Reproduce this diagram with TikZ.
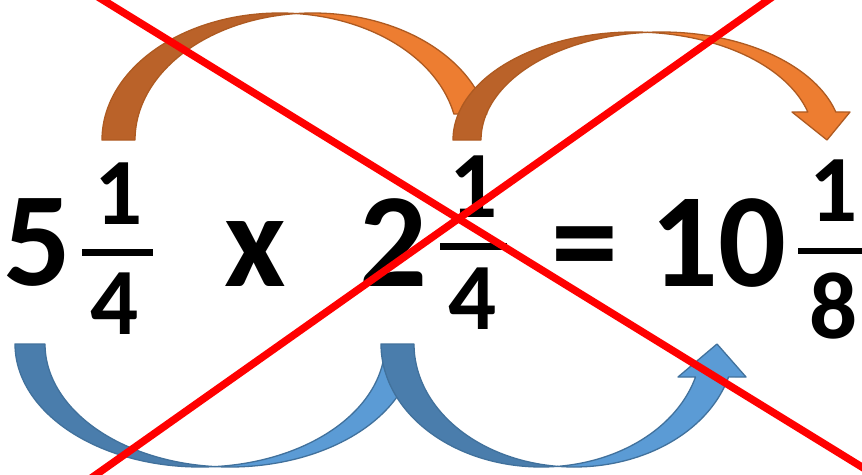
\documentclass[tikz,border=0pt]{standalone}
\usepackage{fontspec}
\setmainfont{Carlito}
\definecolor{orL}{HTML}{ED7D31}
\definecolor{orD}{HTML}{BA6229}
\definecolor{orO}{HTML}{AE5A21}
\definecolor{blL}{HTML}{5B9BD5}
\definecolor{blD}{HTML}{4A7DAC}
\definecolor{blO}{HTML}{41719C}
\begin{document}
\begin{tikzpicture}[x=1pt,y=-1pt,
  bigtxt/.style={font=\fontsize{134}{134}\selectfont\bfseries, inner sep=0pt, anchor=base},
  smalltxt/.style={font=\fontsize{95}{95}\selectfont\bfseries, inner sep=0pt, anchor=base},
  fracbar/.style={line width=6.5pt, draw=black},
  redline/.style={line width=7.5pt, draw=red},
  odark/.style={fill=orD, draw=orO, line width=1.3pt, line join=round},
  olight/.style={fill=orL, draw=orO, line width=1.3pt, line join=round},
  bdark/.style={fill=blD, draw=blO, line width=1.3pt, line join=round},
  blight/.style={fill=blL, draw=blO, line width=1.3pt, line join=round},
  smp/.style={samples=70, smooth}]
\useasboundingbox (0,0) rectangle (862,474);
\fill[white] (0,0) rectangle (862,474);

% ---- orange arrow A (5 1/4 -> 2 1/4)
\filldraw[odark] plot[smp,domain=180:84.68] ({279.8+177.8*cos(\x)},{140-127*sin(\x)})
  -- plot[smp,domain=95.32:180] ({312.8+177.8*cos(\x)},{140-127*sin(\x)}) -- cycle;
\filldraw[olight] plot[smp,domain=84.68:11.81] ({279.8+177.8*cos(\x)},{140-127*sin(\x)})
  -- plot[smp,domain=11.81:95.32] ({312.8+177.8*cos(\x)},{140-127*sin(\x)}) -- cycle;

% ---- orange arrow B (2 1/4 -> 10 1/8)
\filldraw[odark] plot[smp,domain=180:85.55] ({633.5+180.5*cos(\x)},{140-108*sin(\x)})
  -- plot[smp,domain=94.45:180] ({661.5+180.5*cos(\x)},{140-108*sin(\x)}) -- cycle;
\coordinate (bhl) at (792,112);
\coordinate (bht) at (827,140);
\coordinate (bhr) at (850,112);
\filldraw[olight] plot[smp,domain=85.55:15.03] ({633.5+180.5*cos(\x)},{140-108*sin(\x)})
  -- (bhl) -- (bht) -- (bhr)
  -- plot[smp,domain=15.03:94.45] ({661.5+180.5*cos(\x)},{140-108*sin(\x)}) -- cycle;

% ---- blue arrow C
\filldraw[bdark] plot[smp,domain=180:85.35] ({200+185*cos(\x)},{344+123*sin(\x)})
  -- plot[smp,domain=94.65:180] ({230+185*cos(\x)},{344+123*sin(\x)}) -- cycle;
\filldraw[blight] plot[smp,domain=85.35:5.13] ({200+185*cos(\x)},{344+123*sin(\x)})
  -- plot[smp,domain=5.13:94.65] ({230+185*cos(\x)},{344+123*sin(\x)}) -- cycle;

% ---- blue arrow D
\filldraw[bdark] plot[smp,domain=180:84.09] ({541.2+160.2*cos(\x)},{344+123*sin(\x)})
  -- plot[smp,domain=95.91:180] ({574.2+160.2*cos(\x)},{344+123*sin(\x)}) -- cycle;
\coordinate (dhl) at (678,377);
\coordinate (dht) at (717,344);
\coordinate (dhr) at (746,377);
\filldraw[blight] plot[smp,domain=84.09:15.56] ({541.2+160.2*cos(\x)},{344+123*sin(\x)})
  -- (dhl) -- (dht) -- (dhr)
  -- plot[smp,domain=15.56:95.91] ({574.2+160.2*cos(\x)},{344+123*sin(\x)}) -- cycle;

% ---- texts
\node[bigtxt] (five) at (37.5,285) {5};
\node[smalltxt] (n1) at (119,224) {1};
\node[smalltxt] (d1) at (114.5,334) {4};
\draw[fracbar] (82,252.5) coordinate (b1l) -- (153,252.5) coordinate (b1r);
\node[bigtxt] (times) at (255.5,286) {x};
\node[bigtxt] (two) at (393.5,286) {2};
\node[smalltxt] (n2) at (474,217) {1};
\node[smalltxt] (d2) at (472.5,329) {4};
\draw[fracbar] (440,246.5) coordinate (b2l) -- (507,246.5) coordinate (b2r);
\node[bigtxt] (eq) at (585,286) {=};
\node[bigtxt] (ten) at (718,286) {10};
\node[smalltxt] (n3) at (834,221) {1};
\node[smalltxt] (d3) at (833.5,338) {8};
\draw[fracbar] (798,251) coordinate (b3l) -- (866,251) coordinate (b3r);

% ---- red cross
\begin{scope}
\clip (0,0) rectangle (862,474);
\coordinate (r1a) at (94.9,-5);
\coordinate (r1b) at (883,480);
\coordinate (r2a) at (775.1,-5);
\coordinate (r2b) at (88.5,480);
\draw[redline] (r1a) -- (r1b);
\draw[redline] (r2a) -- (r2b);
\end{scope}
\end{tikzpicture}
\end{document}
